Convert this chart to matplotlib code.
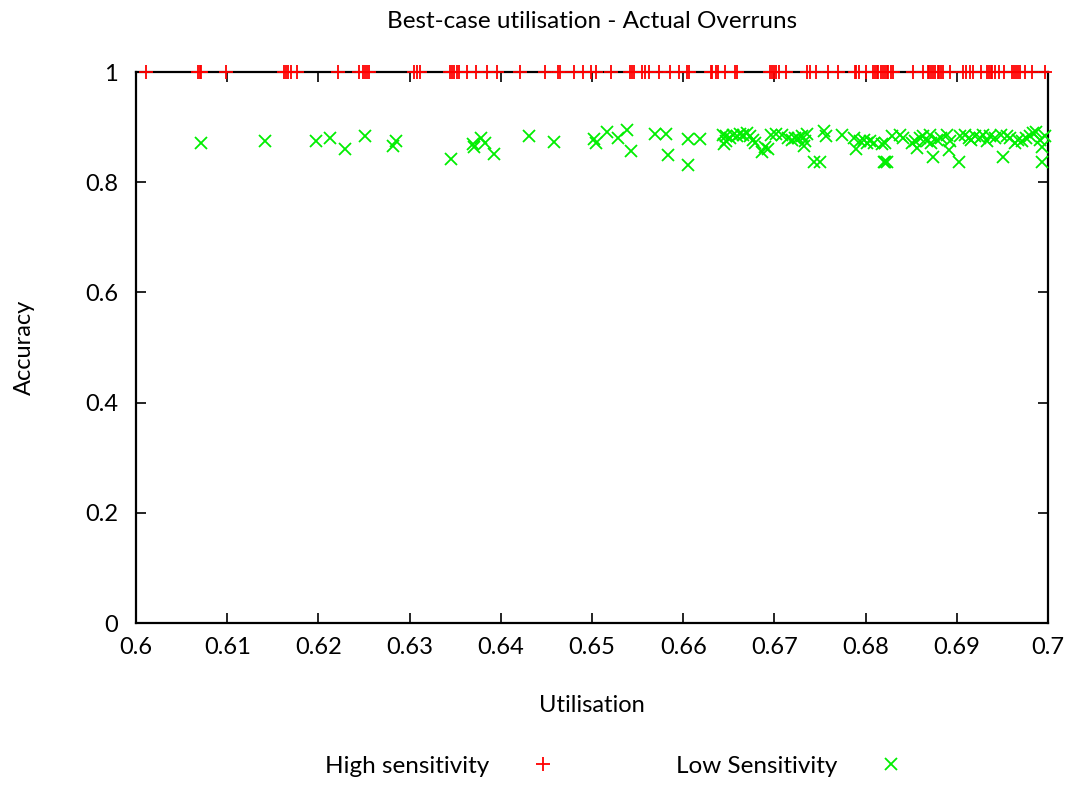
import matplotlib
matplotlib.use('Agg')
import matplotlib.pyplot as plt
from matplotlib.ticker import FuncFormatter

plt.rcParams['font.family'] = ['Lato', 'DejaVu Sans']

# High sensitivity: accuracy is always 1
high_util = [0.6011, 0.6068, 0.6070, 0.6071, 0.6099, 0.6162, 0.6164, 0.6167, 0.6170, 0.6176,
             0.6221, 0.6244, 0.6249, 0.6251, 0.6253, 0.6256, 0.6305, 0.6308, 0.6311,
             0.6344, 0.6346, 0.6349, 0.6352, 0.6354, 0.6363, 0.6373, 0.6385, 0.6396, 0.6421,
             0.6448, 0.6463, 0.6465, 0.6480, 0.6490, 0.6499, 0.6504, 0.6521, 0.6542, 0.6544,
             0.6546, 0.6555, 0.6558, 0.6563, 0.6573, 0.6585, 0.6595, 0.6604, 0.6606, 0.6630,
             0.6632, 0.6636, 0.6638, 0.6646, 0.6657, 0.6659,
             0.6695, 0.6697, 0.6700, 0.6702, 0.6705, 0.6713, 0.6736, 0.6739, 0.6746, 0.6759,
             0.6770, 0.6788, 0.6790, 0.6793, 0.6800, 0.6808, 0.6810, 0.6812, 0.6814, 0.6817,
             0.6819, 0.6821, 0.6823, 0.6825, 0.6828, 0.6830, 0.6852, 0.6863, 0.6868, 0.6870,
             0.6872, 0.6874, 0.6876, 0.6879, 0.6881, 0.6883, 0.6885, 0.6892, 0.6907, 0.6910,
             0.6914, 0.6918, 0.6926, 0.6933, 0.6935, 0.6937, 0.6939, 0.6942, 0.6946, 0.6952,
             0.6961, 0.6963, 0.6965, 0.6967, 0.6969, 0.6975, 0.6982, 0.6997]
high_acc = [1.0] * len(high_util)

# Low sensitivity
low_util = [0.6071, 0.6141, 0.6197, 0.6213, 0.6229, 0.6251, 0.6282, 0.6285,
            0.6345, 0.6369, 0.6371, 0.6378, 0.6383, 0.6393, 0.6431, 0.6458, 0.6502, 0.6504,
            0.6516, 0.6529, 0.6538, 0.6543, 0.6569, 0.6581, 0.6583, 0.6605, 0.6618, 0.6605,
            0.6645, 0.6647,
            0.6644, 0.6647, 0.6651, 0.6655, 0.6659, 0.6662, 0.6666, 0.6670, 0.6673, 0.6677,
            0.6679, 0.6686, 0.6690, 0.6693, 0.6696, 0.6702, 0.6708, 0.6715, 0.6719, 0.6723,
            0.6726, 0.6730, 0.6734, 0.6732, 0.6736, 0.6743, 0.6750, 0.6754, 0.6757, 0.6774,
            0.6787, 0.6789, 0.6794, 0.6798, 0.6801, 0.6805, 0.6809, 0.6818, 0.6820, 0.6823,
            0.6821, 0.6821, 0.6829, 0.6838, 0.6841, 0.6851, 0.6854, 0.6856, 0.6860, 0.6863,
            0.6867, 0.6871, 0.6872, 0.6874, 0.6878, 0.6883, 0.6889, 0.6891, 0.6893, 0.6902,
            0.6904, 0.6909, 0.6913, 0.6916, 0.6920, 0.6925, 0.6929, 0.6933, 0.6936, 0.6942,
            0.6949, 0.6951, 0.6955, 0.6958, 0.6964, 0.6967, 0.6971, 0.6976, 0.6980, 0.6984,
            0.6987, 0.6991, 0.6993, 0.6993, 0.6997]
low_acc = [0.872, 0.874, 0.874, 0.880, 0.860, 0.883, 0.866, 0.874,
           0.842, 0.869, 0.863, 0.881, 0.872, 0.851, 0.884, 0.873, 0.878, 0.871,
           0.892, 0.881, 0.895, 0.857, 0.887, 0.887, 0.850, 0.878, 0.878, 0.831,
           0.869, 0.883,
           0.886, 0.874, 0.880, 0.886, 0.883, 0.887, 0.886, 0.889, 0.883, 0.877,
           0.871, 0.855, 0.864, 0.860, 0.886, 0.887, 0.886, 0.880, 0.877, 0.881,
           0.880, 0.884, 0.874, 0.866, 0.887, 0.837, 0.837, 0.893, 0.883, 0.886,
           0.880, 0.860, 0.874, 0.877, 0.871, 0.874, 0.871, 0.869, 0.837, 0.837,
           0.871, 0.837, 0.883, 0.886, 0.880, 0.871, 0.874, 0.862, 0.880, 0.883,
           0.874, 0.886, 0.871, 0.846, 0.877, 0.880, 0.886, 0.858, 0.874, 0.837,
           0.883, 0.886, 0.880, 0.877, 0.883, 0.880, 0.886, 0.874, 0.883, 0.880,
           0.886, 0.846, 0.883, 0.880, 0.871, 0.877, 0.874, 0.880, 0.883, 0.889,
           0.892, 0.877, 0.864, 0.837, 0.883]

x_ticks = [0.6, 0.61, 0.62, 0.63, 0.64, 0.65, 0.66, 0.67, 0.68, 0.69, 0.7]
y_ticks = [0, 0.2, 0.4, 0.6, 0.8, 1]

fig = plt.figure(figsize=(10.73, 7.85), dpi=100)
ax = fig.add_axes([136 / 1073, 1 - 623 / 785, 912 / 1073, 551 / 785])

ax.plot(high_util, high_acc, linestyle='none', marker='+', color='#ff0000',
        markersize=10, markeredgewidth=1.3, clip_on=False, zorder=3,
        label='High sensitivity')
ax.plot(low_util, low_acc, linestyle='none', marker='x', color='#00ee00',
        markersize=8.5, markeredgewidth=1.3, clip_on=False, zorder=3,
        label='Low Sensitivity')

ax.set_xlim(0.6, 0.7)
ax.set_ylim(0, 1)
ax.set_xticks(x_ticks)
ax.set_yticks(y_ticks)
ax.xaxis.set_major_formatter(FuncFormatter(lambda v, p: '%g' % round(v, 4)))
ax.yaxis.set_major_formatter(FuncFormatter(lambda v, p: '%g' % round(v, 4)))
ax.tick_params(direction='in', length=7, width=1.2, top=True, right=True,
               labelsize=17, color='black')
ax.tick_params(axis='x', pad=10)
ax.tick_params(axis='y', pad=13)
for s in ax.spines.values():
    s.set_linewidth(1.6)

ax.set_title('Best-case utilisation - Actual Overruns', fontsize=17.5, pad=32)
ax.set_xlabel('Utilisation', fontsize=17, labelpad=27)
ax.set_ylabel('Accuracy', fontsize=17, labelpad=36)

fig.legend(loc='center', bbox_to_anchor=(0.578, 1 - 766 / 785), ncol=2,
           frameon=False, markerfirst=False, fontsize=17.5, handlelength=2.0,
           handletextpad=1.2, columnspacing=4.5)

fig.savefig('out.png', dpi=100)
